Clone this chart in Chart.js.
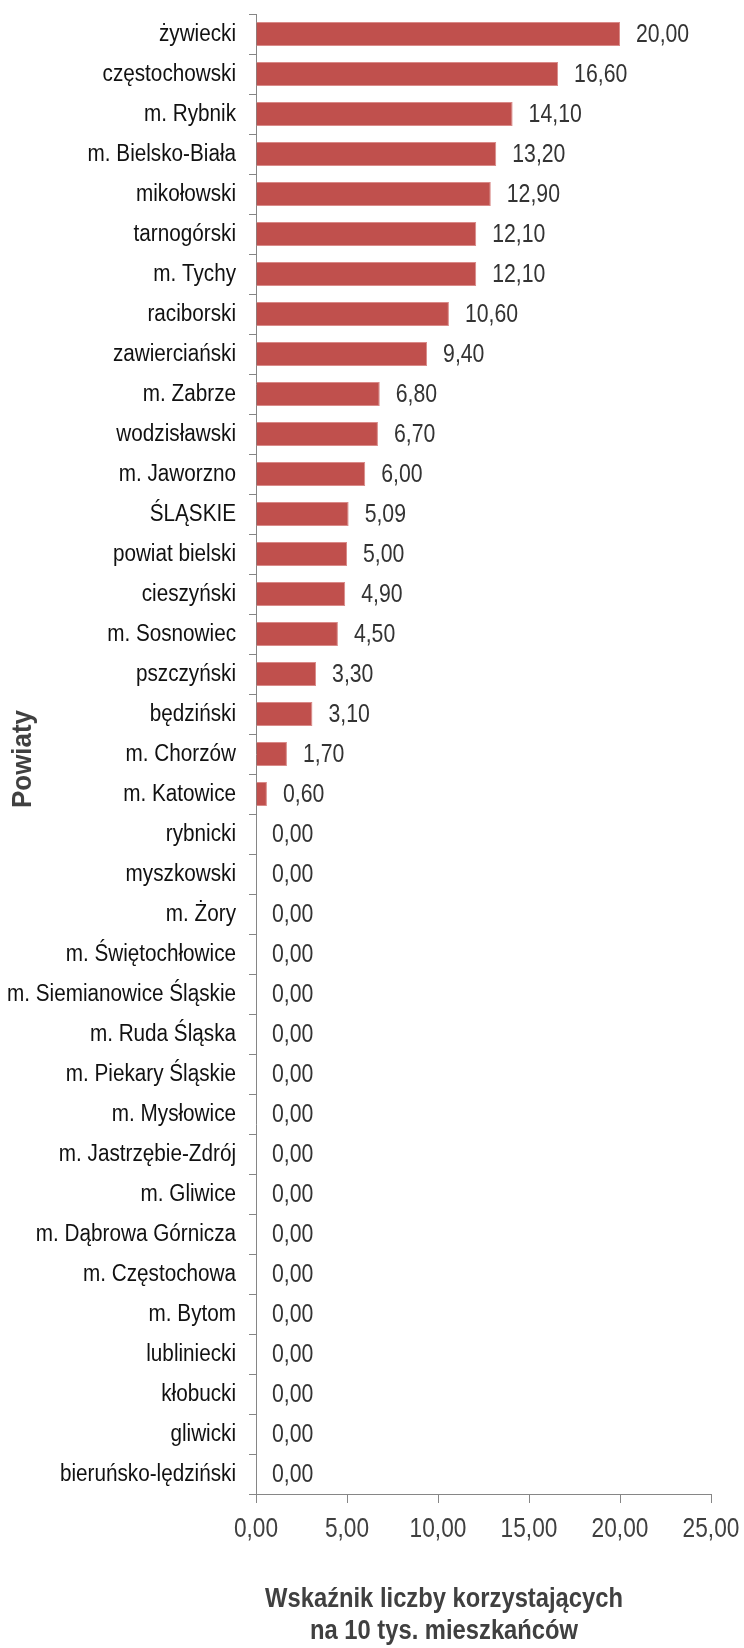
<!DOCTYPE html>
<html lang="pl">
<head>
<meta charset="utf-8">
<title>Wskaźnik liczby korzystających na 10 tys. mieszkańców</title>
<script src="https://cdn.jsdelivr.net/npm/chart.js@4/dist/chart.umd.min.js"></script>
<style>
  html, body { margin: 0; padding: 0; background: #ffffff; }
  #wrap { position: relative; width: 744px; height: 1648px; }
</style>
</head>
<body>
<div id="wrap"><canvas id="chart" width="744" height="1648"></canvas></div>
<script>
// Powiaty województwa śląskiego
const categories = [
  'żywiecki', 'częstochowski', 'm. Rybnik', 'm. Bielsko-Biała', 'mikołowski',
  'tarnogórski', 'm. Tychy', 'raciborski', 'zawierciański', 'm. Zabrze',
  'wodzisławski', 'm. Jaworzno', 'ŚLĄSKIE', 'powiat bielski', 'cieszyński',
  'm. Sosnowiec', 'pszczyński', 'będziński', 'm. Chorzów', 'm. Katowice',
  'rybnicki', 'myszkowski', 'm. Żory', 'm. Świętochłowice', 'm. Siemianowice Śląskie',
  'm. Ruda Śląska', 'm. Piekary Śląskie', 'm. Mysłowice', 'm. Jastrzębie-Zdrój', 'm. Gliwice',
  'm. Dąbrowa Górnicza', 'm. Częstochowa', 'm. Bytom', 'lubliniecki', 'kłobucki',
  'gliwicki', 'bieruńsko-lędziński'
];

// Wskaźnik liczby korzystających na 10 tys. mieszkańców
const values = [
  20.00, 16.60, 14.10, 13.20, 12.90,
  12.10, 12.10, 10.60, 9.40, 6.80,
  6.70, 6.00, 5.09, 5.00, 4.90,
  4.50, 3.30, 3.10, 1.70, 0.60,
  0.00, 0.00, 0.00, 0.00, 0.00,
  0.00, 0.00, 0.00, 0.00, 0.00,
  0.00, 0.00, 0.00, 0.00, 0.00,
  0.00, 0.00
];

const xTicks = [0, 5, 10, 15, 20, 25];
const yTitle = 'Powiaty';
const xTitle = ['Wskaźnik liczby korzystających', 'na 10 tys. mieszkańców'];

const FONT = '"Liberation Sans", Arial, sans-serif';
const AXIS_COLOR = '#868686';
const fmt = v => Number(v).toFixed(2).replace('.', ',');

// narrow text: draws a string squeezed horizontally around its anchor
function narrowText(ctx, text, x, y, sx, align) {
  ctx.save();
  ctx.translate(x, y);
  ctx.scale(sx, 1);
  ctx.textAlign = align;
  ctx.textBaseline = 'middle';
  ctx.fillText(text, 0, 0);
  ctx.restore();
}

// tick labels for both axes, placed from the scales' own tick positions
const axisLabels = {
  id: 'axisLabels',
  afterDraw(chart) {
    const ctx = chart.ctx;
    const ys = chart.scales.y;
    const xs = chart.scales.x;
    ctx.save();
    ctx.font = '23px ' + FONT;
    ctx.fillStyle = '#111111';
    ys.ticks.forEach((t, i) => {
      narrowText(ctx, ys.getLabelForValue(t.value), ys.right - 20, ys.getPixelForTick(i) + 1, 0.9, 'right');
    });
    ctx.font = '27px ' + FONT;
    ctx.fillStyle = '#404040';
    xs.ticks.forEach(t => {
      narrowText(ctx, fmt(t.value), xs.getPixelForValue(t.value), xs.top + 36, 0.84, 'center');
    });
    ctx.restore();
  }
};

// value labels to the right of each bar
const barValueLabels = {
  id: 'barValueLabels',
  afterDatasetsDraw(chart) {
    const ctx = chart.ctx;
    const meta = chart.getDatasetMeta(0);
    ctx.save();
    ctx.font = '25px ' + FONT;
    ctx.fillStyle = '#333333';
    meta.data.forEach((bar, i) => {
      narrowText(ctx, fmt(values[i]), bar.x + 16, bar.y + 1, 0.85, 'left');
    });
    ctx.restore();
  }
};

// axis titles
const axisTitles = {
  id: 'axisTitles',
  afterDraw(chart) {
    const ctx = chart.ctx;
    ctx.save();
    ctx.fillStyle = '#404040';
    ctx.font = 'bold 27px ' + FONT;
    xTitle.forEach((line, i) => narrowText(ctx, line, 444, 1600 + i * 32, 0.88, 'center'));
    ctx.translate(24, 759);
    ctx.rotate(-Math.PI / 2);
    narrowText(ctx, yTitle, 0, 0, 0.96, 'center');
    ctx.restore();
  }
};

new Chart(document.getElementById('chart'), {
  type: 'bar',
  data: {
    labels: categories,
    datasets: [{
      data: values,
      backgroundColor: '#C0504D',
      borderColor: '#D98A88',
      borderWidth: ctx => (ctx.raw > 0 ? 1 : 0),
      borderSkipped: 'start',
      barPercentage: 0.6,
      categoryPercentage: 1.0
    }]
  },
  options: {
    indexAxis: 'y',
    responsive: false,
    animation: false,
    devicePixelRatio: 1,
    layout: { padding: { top: 14, right: 33, left: 0, bottom: 0 } },
    plugins: {
      legend: { display: false },
      tooltip: { enabled: false },
      title: { display: false }
    },
    scales: {
      y: {
        type: 'category',
        afterFit(scale) { scale.width = 256; },
        grid: {
          offset: true,
          drawOnChartArea: false,
          drawTicks: true,
          tickLength: 7,
          color: AXIS_COLOR
        },
        border: { color: AXIS_COLOR, width: 1 },
        ticks: { display: false, autoSkip: false }
      },
      x: {
        min: 0,
        max: 25,
        afterFit(scale) { scale.height = 154; },
        afterBuildTicks(scale) { scale.ticks = xTicks.map(v => ({ value: v })); },
        grid: {
          drawOnChartArea: false,
          drawTicks: true,
          tickLength: 9,
          color: AXIS_COLOR
        },
        border: { color: AXIS_COLOR, width: 1 },
        ticks: { display: false }
      }
    }
  },
  plugins: [barValueLabels, axisLabels, axisTitles]
});
</script>
</body>
</html>
